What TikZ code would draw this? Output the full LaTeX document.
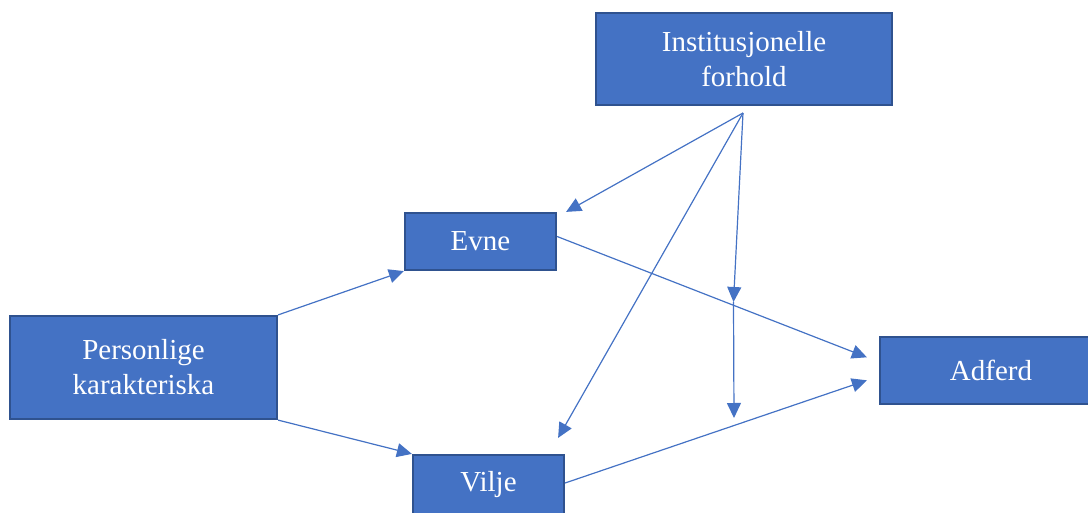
\documentclass[tikz,border=0pt]{standalone}
\usepackage{fontspec}
\setmainfont{Liberation Serif}
\usetikzlibrary{arrows.meta}
\definecolor{boxfill}{HTML}{4472C4}
\definecolor{boxline}{HTML}{2F528F}
\definecolor{arrowc}{HTML}{4472C4}
\begin{document}
\begin{tikzpicture}[x=1pt,y=-1pt,
  box/.style={draw=boxline, line width=2.2pt, fill=boxfill, text=white, align=center,
    font=\fontsize{29}{35}\selectfont, inner sep=0pt},
  conn/.style={draw=arrowc, line width=1.2pt, -{Triangle[length=15pt,width=14pt]}}]
\useasboundingbox (0,0) rectangle (1088,513);
\clip (0,0) rectangle (1088,513);
\node[box, minimum width=296pt, minimum height=92pt] (inst) at (744,59) {Institusjonelle\\forhold};
\node[box, minimum width=151pt, minimum height=57pt] (evne) at (480.5,241.5) {Evne};
\node[box, minimum width=267pt, minimum height=103pt] (pers) at (143.5,367.5) {Personlige\\karakteriska};
\node[box, minimum width=151pt, minimum height=60pt] (vilje) at (488.5,485) {Vilje};
\node[box, minimum width=222pt, minimum height=67pt] (adf) at (991,370.3) {Adferd};
\coordinate (src) at (743,113);
\coordinate (m1) at (733.5,302);
\coordinate (m2) at (734,418);
\draw[conn] (src) -- ([xshift=9pt]evne.north east);
\draw[conn] (src) -- ([xshift=-7pt,yshift=16pt]vilje.north east);
\draw[conn] (src) -- (m1);
\draw[conn] (m1) -- (m2);
\draw[conn] (pers.north east) -- (evne.south west);
\draw[conn] (pers.south east) -- (vilje.north west);
\draw[conn] ([yshift=5pt]evne.east) -- ([xshift=-12pt,yshift=13pt]adf.west);
\draw[conn] ([yshift=2pt]vilje.east) -- ([xshift=-12pt,yshift=-10pt]adf.west);
\end{tikzpicture}
\end{document}
